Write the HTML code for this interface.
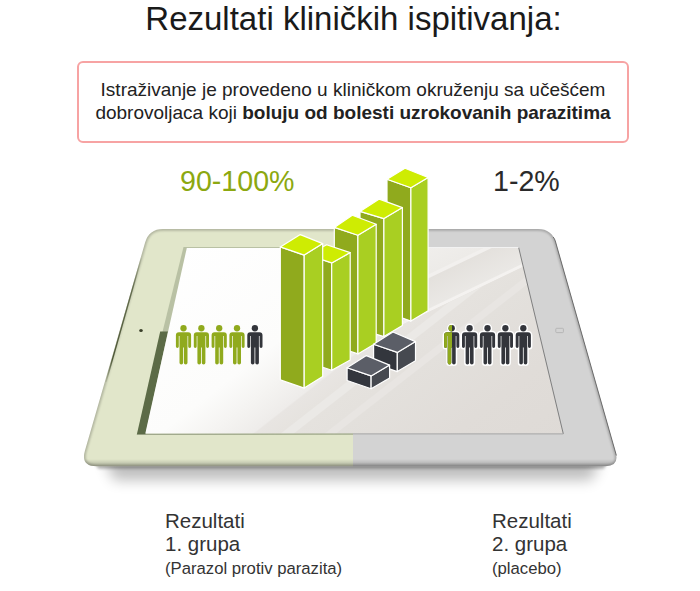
<!DOCTYPE html>
<html><head><meta charset="utf-8">
<style>
html,body{margin:0;padding:0;background:#fff;}
body{width:700px;height:591px;position:relative;overflow:hidden;font-family:"Liberation Sans",sans-serif;color:#222;}
#title{position:absolute;left:0;width:707px;top:-1.5px;text-align:center;font-size:33px;line-height:40px;color:#1a1a1a;white-space:nowrap;}
#box{position:absolute;left:77px;top:61px;width:548px;height:78px;border:2px solid #f7a3a3;border-radius:6px;box-sizing:content-box;}
#box p{margin:0;position:absolute;left:0;width:100%;text-align:center;font-size:19px;line-height:23px;top:15px;color:#222;white-space:nowrap;}
.pct{position:absolute;font-size:28.6px;line-height:30px;top:165.6px;}
.lab{position:absolute;font-size:20.5px;line-height:23.3px;color:#333;white-space:nowrap;}
.lab small{font-size:16.7px;position:relative;top:-0.5px;}
svg{position:absolute;left:0;top:0;}
</style></head><body>
<div id="title">Rezultati kliničkih ispitivanja:</div>
<div id="box"><p>Istraživanje je provedeno u kliničkom okruženju sa učešćem<br>dobrovoljaca koji <b>boluju od bolesti uzrokovanih parazitima</b></p></div>
<svg width="700" height="591" viewBox="0 0 700 591">
<defs>
<linearGradient id="scr" gradientUnits="userSpaceOnUse" x1="184.5" y1="236.6" x2="430.5" y2="551.9">
<stop offset="0.0000" stop-color="#ffffff"/><stop offset="0.3500" stop-color="#fcfcfb"/><stop offset="0.4250" stop-color="#f5f4f2"/><stop offset="0.4925" stop-color="#eeecea"/><stop offset="0.4963" stop-color="#e8e5e2"/><stop offset="0.5350" stop-color="#e6e3df"/><stop offset="0.5375" stop-color="#ebe9e6"/><stop offset="0.5550" stop-color="#ebe9e6"/><stop offset="0.5575" stop-color="#e5e2de"/><stop offset="0.6025" stop-color="#e4e1dd"/><stop offset="0.6050" stop-color="#e8e5e2"/><stop offset="0.6200" stop-color="#e8e5e2"/><stop offset="0.6225" stop-color="#e3e0dc"/><stop offset="0.8000" stop-color="#e0dcd8"/><stop offset="1.0000" stop-color="#deDAd6"/>
</linearGradient>
<linearGradient id="scr2" gradientUnits="userSpaceOnUse" x1="172.8" y1="360.8" x2="203.04" y2="423.94"><stop offset="0.0000" stop-color="#f1efed"/><stop offset="0.4571" stop-color="#edebe8"/><stop offset="0.4714" stop-color="#f2f0ee"/><stop offset="0.5071" stop-color="#f2f0ee"/><stop offset="0.5214" stop-color="#e4e1dd"/><stop offset="0.9000" stop-color="#eae8e5"/><stop offset="0.9143" stop-color="#f4f2f0"/><stop offset="0.9429" stop-color="#f4f2f0"/><stop offset="0.9571" stop-color="#e4e1dd"/><stop offset="1.0000" stop-color="#e4e1dd"/></linearGradient>
<linearGradient id="edgel" gradientUnits="userSpaceOnUse" x1="0" y1="255" x2="0" y2="385"><stop offset="0" stop-color="#3f4a28" stop-opacity="0"/><stop offset="0.25" stop-color="#3f4a28" stop-opacity="0.7"/><stop offset="0.8" stop-color="#3f4a28" stop-opacity="0.9"/><stop offset="1" stop-color="#3f4a28" stop-opacity="0"/></linearGradient>
<linearGradient id="ovl" gradientUnits="userSpaceOnUse" x1="300" y1="0" x2="450" y2="0"><stop offset="0" stop-color="#5a564c" stop-opacity="0"/><stop offset="1" stop-color="#5a564c" stop-opacity="0.0"/></linearGradient>
<linearGradient id="shad" x1="0" y1="0" x2="0" y2="1">
<stop offset="0" stop-color="#000" stop-opacity="0.35"/><stop offset="1" stop-color="#000" stop-opacity="0"/>
</linearGradient>
<clipPath id="tl"><rect x="0" y="0" width="353" height="591"/></clipPath>
<clipPath id="tr"><rect x="353" y="0" width="347" height="591"/></clipPath>
<filter id="blur3" x="-5%" y="-5%" width="110%" height="110%"><feGaussianBlur stdDeviation="1"/></filter>
<filter id="blur2" x="-5%" y="-300%" width="110%" height="700%"><feGaussianBlur stdDeviation="1.6"/></filter>
<filter id="blur" x="-10%" y="-50%" width="120%" height="300%"><feGaussianBlur stdDeviation="7"/></filter>
<g id="man"><circle cx="0" cy="3.55" r="3.15"/><path d="M-4.6,7.6 H4.6 A3,3 0 0 1 7.6,10.6 V21.9 A1.45,1.45 0 0 1 4.7,21.9 V11.4 H4 V38 A1.8,1.8 0 0 1 0.4,38 V22.8 H-0.4 V38 A1.8,1.8 0 0 1 -4,38 V11.4 H-4.7 V21.9 A1.45,1.45 0 0 1 -7.6,21.9 V10.6 A3,3 0 0 1 -4.6,7.6Z"/></g>
</defs>
<!-- shadow -->
<path d="M104,458 L600,458 L592,480 L114,480Z" fill="#000" opacity="0.26" filter="url(#blur)"/>
<path d="M96,464 L606,464 L604,468.500 L98,468.500Z" fill="#000" opacity="0.30" filter="url(#blur2)"/>
<!-- tablet body -->
<path id="body" d="M145.1,242.5 Q149.0,229.0 163.0,229.0 L538.0,229.0 Q552.0,229.0 555.8,242.5 L615.7,452.7 Q619.5,466.2 605.5,466.2 L96.5,466.2 Q80.5,466.2 84.9,450.8 Z" fill="#e1e6ca" clip-path="url(#tl)"/>
<path d="M145.1,242.5 Q149.0,229.0 163.0,229.0 L538.0,229.0 Q552.0,229.0 555.8,242.5 L615.7,452.7 Q619.5,466.2 605.5,466.2 L96.5,466.2 Q80.5,466.2 84.9,450.8 Z" fill="#d3d3d3" clip-path="url(#tr)"/>
<clipPath id="bodyclip"><path d="M145.1,242.5 Q149.0,229.0 163.0,229.0 L538.0,229.0 Q552.0,229.0 555.8,242.5 L615.7,452.7 Q619.5,466.2 605.5,466.2 L96.5,466.2 Q80.5,466.2 84.9,450.8 Z"/></clipPath>
<linearGradient id="bevb" x1="0" y1="0" x2="0" y2="1"><stop offset="0" stop-color="#000" stop-opacity="0"/><stop offset="1" stop-color="#000" stop-opacity="0.22"/></linearGradient>
<g clip-path="url(#bodyclip)"><rect x="70" y="459" width="560" height="7.500" fill="url(#bevb)"/>
<path d="M145.1,242.5 Q149.0,229.0 163.0,229.0 L538.0,229.0 Q552.0,229.0 555.8,242.5 L615.7,452.7 Q619.5,466.2 605.5,466.2 L96.5,466.2 Q80.5,466.2 84.9,450.8 Z" fill="none" stroke="#000" stroke-opacity="0.22" stroke-width="3.5" filter="url(#blur3)"/></g>
<!-- screen -->
<path d="M183.500,247 L518.600,247 L563.400,434 L137,434.800Z" fill="#b9c1a4" clip-path="url(#tl)"/>
<path d="M160.200,331.400 L168,331.400 L145.500,434.800 L136.800,434.800Z" fill="#5c6b47"/>
<path d="M186.800,248 L518.300,248 L562.600,433.400 L145.300,433.400Z" fill="url(#scr)"/>
<clipPath id="scrclip"><path d="M186.800,248 L518.300,248 L562.600,433.400 L145.300,433.400Z"/></clipPath>
<g clip-path="url(#scrclip)">
<path d="M395,240 L525,240 L525,266 L395,328.300Z" fill="url(#scr2)"/>
<rect x="140" y="240" width="430" height="200" fill="url(#ovl)"/>
</g>
<path d="M518.600,247.300 L563.300,433.800" stroke="#6a6a6a" stroke-width="0.8" fill="none"/>
<path d="M137,434.500 L353,434.100" stroke="#9aa386" stroke-width="0.9" fill="none"/>
<path d="M353,433.900 L563.300,433.900" stroke="#9a9a9a" stroke-width="0.8" fill="none"/>
<path d="M353,247.500 L518.600,247.500" stroke="#f2f2f2" stroke-width="1" fill="none"/>
<!-- camera / home -->
<ellipse cx="141" cy="330.400" rx="1.800" ry="1.500" fill="#3a3f2a"/>
<rect x="555.800" y="328.300" width="7.600" height="4.300" rx="0.8" fill="none" stroke="#b2b2b2" stroke-width="0.9"/>
<path d="M553.200,237 Q554.500,238.500 555.300,241 L616.400,455.500" stroke="#5c5c5c" stroke-width="1" fill="none" opacity="0.85"/>
<!-- left dark edge -->
<path d="M141.300,258 L106,382" stroke="url(#edgel)" stroke-width="1.3" fill="none"/>
<g stroke="#fff" stroke-width="1.2" stroke-linejoin="round">
<polygon points="387.0,179.3 410.9,187.8 410.9,321.1 387.0,312.6" fill="#90aa1d"/>
<polygon points="410.9,187.8 428.1,177.5 428.1,310.8 410.9,321.1" fill="#a9cf22"/>
<polygon points="405.0,168.2 387.0,179.3 410.9,187.8 428.1,177.5" fill="#ceec03"/>
<polygon points="360.0,211.4 383.9,218.6 383.9,336.6 360.0,329.4" fill="#90aa1d"/>
<polygon points="383.9,218.6 402.4,207.6 402.4,325.6 383.9,336.6" fill="#a9cf22"/>
<polygon points="379.3,199.1 360.0,211.4 383.9,218.6 402.4,207.6" fill="#ceec03"/>
<polygon points="334.3,227.4 357.9,235.3 357.9,353.9 334.3,346.0" fill="#90aa1d"/>
<polygon points="357.9,235.3 376.2,224.3 376.2,342.9 357.9,353.9" fill="#a9cf22"/>
<polygon points="352.3,215.3 334.3,227.4 357.9,235.3 376.2,224.3" fill="#ceec03"/>
<polygon points="308.1,255.0 331.7,262.9 331.7,370.3 308.1,362.4" fill="#90aa1d"/>
<polygon points="331.7,262.9 350.2,252.6 350.2,360.0 331.7,370.3" fill="#a9cf22"/>
<polygon points="326.6,244.7 308.1,255.0 331.7,262.9 350.2,252.6" fill="#ceec03"/>
<polygon points="280.3,246.9 304.2,255.1 304.2,388.1 280.3,379.9" fill="#90aa1d"/>
<polygon points="304.2,255.1 322.7,243.6 322.7,376.6 304.2,388.1" fill="#a9cf22"/>
<polygon points="300.3,234.6 280.3,246.9 304.2,255.1 322.7,243.6" fill="#ceec03"/>
<polygon points="373.6,344.2 397.3,352.4 397.3,371.6 373.6,363.4" fill="#33363d"/>
<polygon points="397.3,352.4 415.5,341.6 415.5,360.8 397.3,371.6" fill="#464950"/>
<polygon points="392.9,332.0 373.6,344.2 397.3,352.4 415.5,341.6" fill="#5b5e67"/>
<polygon points="347.1,367.7 371.1,375.9 371.1,388.7 347.1,380.5" fill="#33363d"/>
<polygon points="371.1,375.9 389.6,365.1 389.6,377.9 371.1,388.7" fill="#464950"/>
<polygon points="366.4,355.6 347.1,367.7 371.1,375.9 389.6,365.1" fill="#5b5e67"/>
</g>
<g>
<use href="#man" x="183.5" y="324.700" fill="#90aa1d"/>
<use href="#man" x="201.4" y="324.700" fill="#90aa1d"/>
<use href="#man" x="219.2" y="324.700" fill="#90aa1d"/>
<use href="#man" x="237.0" y="324.700" fill="#90aa1d"/>
<use href="#man" x="254.9" y="324.700" fill="#33353b"/>
</g>
<g>
<use href="#man" x="451.7" y="324.700" fill="#fff" stroke="#fff" stroke-width="3" stroke-linejoin="round"/>
<use href="#man" x="469.6" y="324.700" fill="#fff" stroke="#fff" stroke-width="3" stroke-linejoin="round"/>
<use href="#man" x="487.5" y="324.700" fill="#fff" stroke="#fff" stroke-width="3" stroke-linejoin="round"/>
<use href="#man" x="505.4" y="324.700" fill="#fff" stroke="#fff" stroke-width="3" stroke-linejoin="round"/>
<use href="#man" x="523.3" y="324.700" fill="#fff" stroke="#fff" stroke-width="3" stroke-linejoin="round"/>
<use href="#man" x="451.7" y="324.700" fill="#33353b"/>
<use href="#man" x="469.6" y="324.700" fill="#33353b"/>
<use href="#man" x="487.5" y="324.700" fill="#33353b"/>
<use href="#man" x="505.4" y="324.700" fill="#33353b"/>
<use href="#man" x="523.3" y="324.700" fill="#33353b"/>
<clipPath id="half"><rect x="440" y="320" width="12.1" height="50"/></clipPath>
<g clip-path="url(#half)"><use href="#man" x="451.7" y="324.700" fill="#90aa1d"/></g>
</g>
</svg>
<div class="pct" style="left:180px;color:#8ca810;">90-100%</div>
<div class="pct" style="left:493px;color:#2a2a2a;">1-2%</div>
<div class="lab" style="left:165px;top:508.7px;">Rezultati<br>1. grupa<br><small>(Parazol protiv parazita)</small></div>
<div class="lab" style="left:492px;top:508.7px;">Rezultati<br>2. grupa<br><small>(placebo)</small></div>
</body></html>
